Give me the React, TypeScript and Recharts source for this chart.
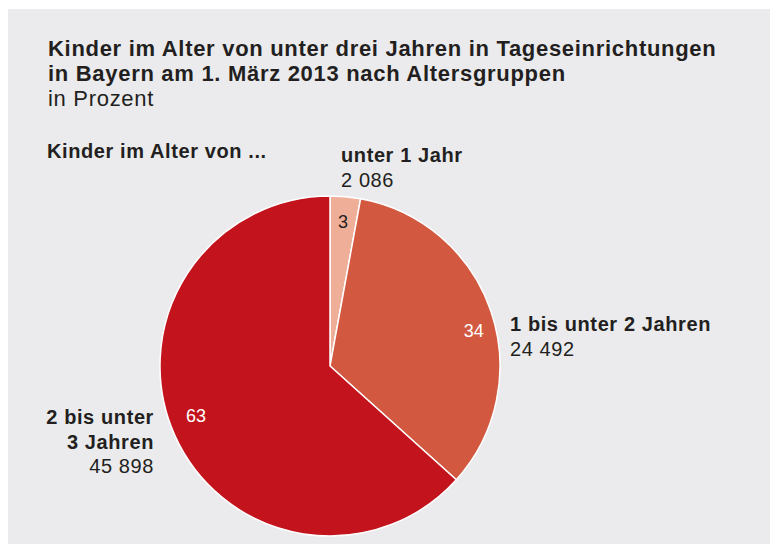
import React from 'react';
import { PieChart, Pie, Cell } from 'recharts';

const categories = ['unter 1 Jahr', '1 bis unter 2 Jahren', '2 bis unter 3 Jahren'];
const counts = [2086, 24492, 45898];
const percentLabels = ['3', '34', '63'];
const countLabels = ['2 086', '24 492', '45 898'];
const colors = ['#eeae97', '#d2583f', '#c3131c'];

const data = categories.map((name, i) => ({ name, value: counts[i] }));

const FONT = '"Liberation Sans", Arial, Helvetica, sans-serif';
const TEXT = '#231f20';
const RAD = Math.PI / 180;

// inner percent label nudges (angle offset, radius)
const innerPos = [
    { da: 0, r: 145 },
    { da: -5, r: 148 },
    { da: -3.5, r: 143 },
];

// outer label placement relative to the pie centre
const outerLabels = [
    { dx: 11, dy: -204, anchor: 'start', lines: ['unter 1 Jahr'] },
    { dx: 180, dy: -35, anchor: 'start', lines: ['1 bis unter 2 Jahren'] },
    { dx: -176, dy: 58, anchor: 'end', lines: ['2 bis unter', '3 Jahren'] },
];

const renderLabel = (props: any) => {
    const { cx, cy, midAngle, index } = props;
    const p = innerPos[index];
    const a = (midAngle + p.da) * RAD;
    const x = cx + p.r * Math.cos(-a);
    const y = cy + p.r * Math.sin(-a);
    const o = outerLabels[index];
    return (
        <g>
            <text x={x} y={y} textAnchor="middle" dominantBaseline="central" fontSize={18} fontFamily={FONT}
                fill={index === 0 ? TEXT : '#fff'}>
                {percentLabels[index]}
            </text>
            <text x={cx + o.dx} y={cy + o.dy} textAnchor={o.anchor} fontFamily={FONT} fill={TEXT}
                style={{ letterSpacing: 0.6 }}>
                {o.lines.map((l, j) => (
                    <tspan key={j} x={cx + o.dx} dy={j === 0 ? 0 : 24.5} fontSize={20} fontWeight="bold">{l}</tspan>
                ))}
                <tspan x={cx + o.dx} dy={24.5} fontSize={20}>{countLabels[index]}</tspan>
            </text>
        </g>
    );
};

const App: React.FC = () => {
    return (
        <div style={{ margin: -8, width: 778, height: 552, position: 'relative', background: '#fff', fontFamily: FONT, color: TEXT }}>
            <div style={{ position: 'absolute', left: 5, top: 9, width: 773, height: 542, background: '#ebebed' }} />
            <div style={{ position: 'absolute', left: 48, top: 36, fontSize: 22, lineHeight: '25px', letterSpacing: 0.7 }}>
                <div style={{ fontWeight: 'bold' }}>Kinder im Alter von unter drei Jahren in Tageseinrichtungen</div>
                <div style={{ fontWeight: 'bold' }}>in Bayern am 1. März 2013 nach Altersgruppen</div>
                <div>in Prozent</div>
            </div>
            <div style={{ position: 'absolute', left: 47, top: 140, fontSize: 20, fontWeight: 'bold', letterSpacing: 0.6 }}>Kinder im Alter von ...</div>
            <div style={{ position: 'absolute', left: 0, top: 0 }}>
                <PieChart width={778} height={552} margin={{ top: 0, right: 0, bottom: 0, left: 0 }}>
                    <Pie
                        data={data}
                        dataKey="value"
                        cx={330}
                        cy={366}
                        outerRadius={170}
                        startAngle={90}
                        endAngle={-270}
                        stroke="#fff"
                        strokeWidth={1.5}
                        label={renderLabel}
                        labelLine={false}
                        isAnimationActive={false}
                    >
                        {data.map((d, i) => <Cell key={d.name} fill={colors[i]} />)}
                    </Pie>
                </PieChart>
            </div>
        </div>
    );
};

export default App;
